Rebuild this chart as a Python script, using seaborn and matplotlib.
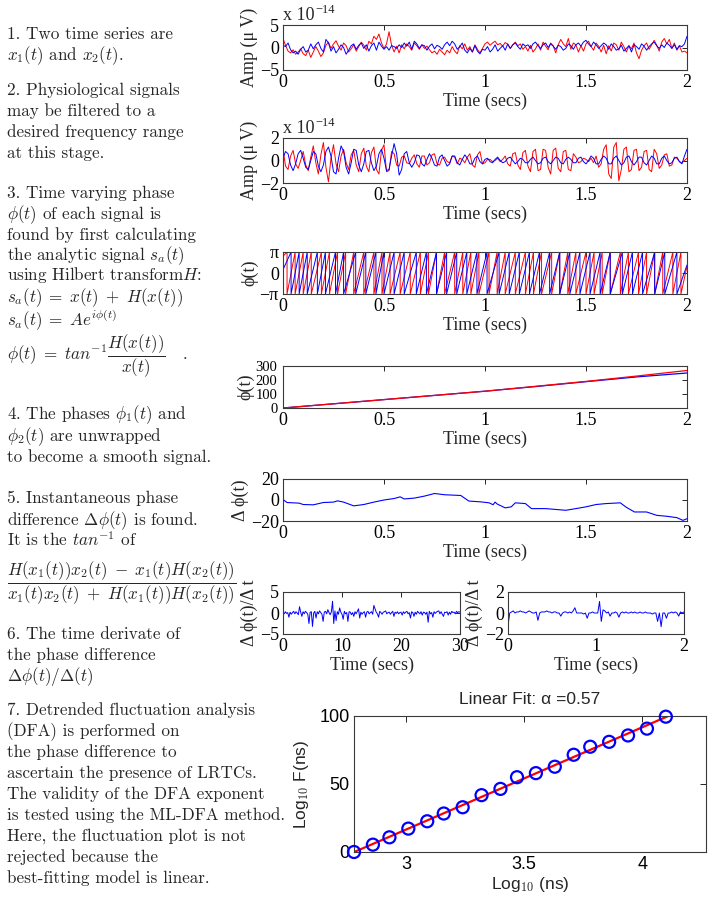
import numpy as np
import pandas as pd
import matplotlib
matplotlib.use("Agg")
import matplotlib.pyplot as plt
import seaborn as sns

# --- panel 1: raw signals, units of 1e-15 uV, sampled every 0.0125 s over 2 s
raw_red = [
    20, 5, -8, -12, -5, -15, -10, -3, -14, -18, -6, -22, -10, 2, -8, -20,
    -12, 5, 12, -2, 8, 15, 3, -6, 10, 4, -10, -3, 6, -8, 2, 12,
    5, -6, 14, 8, 25, 18, 30, 10, -2, 8, 35, 5, -10, 3, -12, 6,
    -3, 8, 2, -6, 10, 4, -4, 6, -2, 3, -5, -12, -8, -15, -4, -10,
    -16, -6, -12, 2, -8, -14, 4, -3, 8, -6, 2, -10, 6, -4, -12, -2,
    8, 12, 5, 10, 14, 6, 9, 3, 11, 7, -2, 6, 12, 4, 8, -4,
    2, -8, 5, -10, -3, 8, -6, 12, 3, -5, 10, 4, -12, 6, 18, 8,
    2, 20, -4, 10, 6, -10, 4, -8, 8, 14, 2, -6, 10, 3, -10, 5,
    -14, 4, -8, 10, 6, -6, 12, 2, -10, 4, -3, 10, -12, -25, -6, 4,
    10, -4, 6, 16, 5, -8, 12, 20, 8, 18, -2, 10, -6, 4, -10, -8,
    -12,
]
raw_blue = [
    5, 2, 10, -5, -12, -8, -15, -4, 2, -10, -6, 8, -3, 6, 12, -2,
    -10, 18, 10, -8, 2, -12, -4, 6, 0, -15, -6, 4, 8, -4, 5, 10,
    -2, 6, -8, 4, 10, -6, 12, 3, -4, 2, -6, 4, 2, -2, 6, 0,
    10, 3, 12, -4, 14, 8, -2, 6, 4, -6, 3, 8, -3, 5, 2, -4,
    6, 12, 4, 14, 8, -4, 2, 10, -6, -12, -2, -10, 4, -8, -14, -4,
    -6, 2, -10, -4, 6, -8, -2, 4, -6, 8, -2, 6, 10, 2, -4, 8,
    3, 6, -2, 8, 12, 4, -2, 6, 10, 0, 8, 3, -4, 5, 2, -6,
    -2, 8, 4, -4, 6, 10, 3, 12, 16, 8, 2, 12, 6, -2, 4, 10,
    6, -4, 8, 2, -6, -3, 5, -8, -2, 4, -10, 6, 2, -4, 8, 3,
    -6, 2, 8, 12, 4, -2, 6, 0, 10, 5, -2, 6, -4, 4, 2, 8,
    25,
]

# --- panel 2: filtered signals, units of 1e-15 uV
filt_red = [
    10, -5, -8, 4, 9, -3, -7, 0, 8, -4, -9, 3, 13, -2, -12, 5,
    16, -6, -19, 2, 14, -3, -10, 4, 10, -2, -8, 5, 9, -4, -10, 6,
    11, -5, -10, 7, 12, -8, -12, 9, 14, -10, -9, 8, 6, -4, -5, 3,
    4, -2, -3, 2, 5, -3, -6, 4, 4, -4, -2, 5, 6, -3, -4, 2,
    3, -1, -2, 4, 3, -3, 2, 1, -2, 3, 6, -4, -6, 5, 8, -3,
    -2, 1, 1, -1, 0, 2, -1, 1, 4, -3, -5, 6, 7, -4, -8, 7,
    9, -5, -10, 8, 10, -9, -8, 10, 9, -6, -12, 9, 11, -7, -10, 8,
    9, -8, -9, 6, 3, -2, -1, 2, 1, -1, 2, -2, 4, -6, -3, 10,
    14, -12, -16, 12, 16, -18, -8, 10, 12, -10, -8, 9, 10, -9, -6, 8,
    9, -8, -10, 10, 6, -7, -4, 5, 6, -5, -4, 3, 2, -1, -2, 0,
    2,
]
filt_blue = [
    2, 8, 6, -4, -9, -3, 6, 9, 2, -6, -8, 0, 8, 6, -5, -10,
    -4, 8, 12, 4, -10, -12, 2, 13, 8, -6, -12, -2, 10, 9, -4, -10,
    -3, 8, 9, -2, -9, -5, 6, 10, 2, -9, -8, 4, 15, 6, -13, -8,
    6, 8, -2, -6, -2, 5, 4, -3, -5, 1, 6, 2, -4, -5, 3, 5,
    0, -5, -3, 4, 4, -2, -4, 1, 5, 2, -3, -3, 2, 4, -1, -3,
    1, 2, -1, -2, 1, 3, 0, -2, -1, 2, 3, 0, -3, -1, 2, 1,
    -2, -2, 1, 3, 0, -3, -2, 2, 3, -1, -3, 0, 3, 2, -2, -3,
    1, 3, 1, -2, -2, 2, 3, -1, -3, 0, 4, 2, -3, -3, 1, 4,
    2, -3, -3, 2, 4, 0, -4, -2, 3, 4, -1, -4, -1, 3, 3, -2,
    -4, 0, 4, 2, -3, -3, 2, 4, 0, -3, -2, 2, 3, -1, -3, 4,
    10,
]

# --- panel 3: times (s) at which each wrapped phase jumps from pi to -pi
wrap_red = [0.02, 0.06, 0.10, 0.14, 0.19, 0.23, 0.27, 0.31, 0.35, 0.40, 0.45,
            0.49, 0.53, 0.58, 0.63, 0.68, 0.72, 0.76, 0.80, 0.85, 0.89, 0.93,
            0.97, 1.02, 1.06, 1.10, 1.15, 1.20, 1.24, 1.28, 1.33, 1.37, 1.41,
            1.45, 1.50, 1.54, 1.58, 1.62, 1.67, 1.71, 1.76, 1.80, 1.84, 1.88,
            1.93, 1.97]
wrap_blue = [0.04, 0.08, 0.12, 0.17, 0.21, 0.26, 0.30, 0.36, 0.41, 0.46, 0.50,
             0.55, 0.60, 0.66, 0.71, 0.76, 0.81, 0.86, 0.91, 0.96, 1.01, 1.07,
             1.12, 1.17, 1.22, 1.27, 1.32, 1.37, 1.42, 1.47, 1.52, 1.57, 1.62,
             1.68, 1.73, 1.78, 1.84, 1.89, 1.95]
wrap_start = {"red": 2.5, "blue": 0.5}
wrap_end = {"red": 1.0, "blue": 1.2}

# --- panel 4: unwrapped phase
unwrap_t = [0, 0.25, 0.5, 0.75, 1.0, 1.25, 1.5, 1.75, 2.0]
unwrap_red = [0, 30, 60, 90, 120, 155, 190, 228, 268]
unwrap_blue = [0, 30, 60, 90, 120, 153, 188, 222, 250]

# --- panel 5: phase difference
dphi_t = [0, 0.02, 0.08, 0.10, 0.15, 0.20, 0.25, 0.27, 0.30, 0.35, 0.40, 0.45,
          0.50, 0.55, 0.58, 0.60, 0.65, 0.70, 0.75, 0.80, 0.88, 0.92, 0.98,
          1.02, 1.04, 1.05, 1.06, 1.10, 1.13, 1.15, 1.20, 1.23, 1.30, 1.40,
          1.45, 1.50, 1.55, 1.60, 1.67, 1.70, 1.74, 1.80, 1.85, 1.90, 1.95,
          1.98, 2.0]
dphi_v = [0.5, -2.4, -3.0, -4.3, -4.6, -2.4, -2.0, -0.8, -2.0, -5.6, -4.3, -2.0,
          0.0, 1.4, 3.0, 1.0, 1.8, 3.7, 6.2, 5.0, 4.3, -1.0, -1.8,
          -2.7, -4.5, -2.0, -3.8, -7.5, -6.5, -2.7, -3.4, -8.2, -8.2, -9.8,
          -8.2, -6.5, -4.3, -3.4, -2.7, -7.0, -11.4, -11.4, -14.6, -15.5, -16.8,
          -19.4, -17.8]

# --- panel 6: derivative of the phase difference, units of 0.1
deriv_long = [
    2, -2, 3, -1, 1, -10, 2, -3, 1, 4,
    -2, 3, 0, -4, 15, 2, -8, 3, -2, 4,
    1, -3, -25, 2, 3, -32, 0, 4, -12, 3,
    -2, 5, 1, -3, -20, 2, 4, -2, 8, 1,
    -4, 3, 28, -25, 5, -18, 3, -3, 12, 2,
    -3, -15, 4, -2, 1, -20, 3, 2, -4, 1,
    -8, 3, -2, 4, 10, -12, 2, -3, 1, 3,
    -10, 2, 4, -2, 1, 3, -3, 18, 10, 2,
    -2, -10, 4, 1, -3, 2, 3, 5, -2, 1,
    2, -3, 1, 4, -8, 2, -1, 3, -2, 1,
    2, -5, 3, -1, 2, 4, -2, 1, -12, 3,
    1, -8, 2, -3, 4, 1, -2, 3, -5, 2,
    1, -3, 2, -22, 4, -2, 1, -10, 3, -1,
    2, 4, 5, -2, 3, -3, -8, 2, 1, 3,
    -5, 2, -3, 4, 1, 2, -2, 4, 1, 3,
    2,
]
deriv_short = [
    -12, 0, 1, 2, 0, 1, 1, 2, 1, 1,
    0, 1, 2, 1, 0, 0, 1, -7, 0, 1,
    1, 1, 2, 1, 1, 0, 1, 1, 0, 0,
    -3, 0, 1, 1, 0, 1, 0, 2, 5, 0,
    0, 0, 0, -1, 0, -5, 0, 0, 1, 0,
    0, 0, 11, -8, 3, 2, 0, 1, -3, 0,
    0, 1, 0, -4, 0, 1, 0, 1, 0, 0,
    1, 0, 1, 0, 0, 1, 0, 0, 1, 0,
    0, 0, -1, 0, 0, -8, 0, -13, 0, 0,
    -5, 0, 0, 1, 0, 1, 0, -3, 1, 0,
    1,
]

# --- panel 7: DFA fluctuation plot
dfa_x = [2.78, 2.86, 2.93, 3.01, 3.09, 3.16, 3.24, 3.32, 3.40, 3.47, 3.55,
         3.63, 3.71, 3.78, 3.86, 3.94, 4.02, 4.10]
dfa_y = [0, 5.4, 10.8, 17.2, 22.6, 28.3, 32.9, 41.8, 46.4, 55.0, 58.0, 62.7,
         71.5, 77.4, 81.0, 85.7, 90.7, 99.5]
fit_range = [2.78, 4.135]

left_lines = [
    (39, "1. Two time series are"),
    (60, r"$x_1(t)$ and $x_2(t)$."),
    (95, "2. Physiological signals"),
    (116, "may be filtered to a"),
    (137, "desired frequency range"),
    (158, "at this stage."),
    (198, "3. Time varying phase"),
    (219, r"$\phi(t)$ of each signal is"),
    (240, "found by first calculating"),
    (260, r"the analytic signal $s_a(t)$"),
    (280, r"using Hilbert transform$H$:"),
    (302, r"$s_a(t)\;=\;x(t)\;+\;H(x(t))$"),
    (326, r"$s_a(t)\;=\;Ae^{i\phi(t)}$"),
    (360, r"$\phi(t)\;=\;tan^{-1}\dfrac{H(x(t))}{x(t)}$   ."),
    (419, r"4. The phases $\phi_1(t)$ and"),
    (441, r"$\phi_2(t)$ are unwrapped"),
    (462, "to become a smooth signal."),
    (503, "5. Instantaneous phase"),
    (525, r"difference $\Delta\phi(t)$ is found."),
    (546, r"It is the $tan^{-1}$ of"),
    (587, r"$\dfrac{H(x_1(t))x_2(t)\;-\;x_1(t)H(x_2(t))}{x_1(t)x_2(t)\;+\;H(x_1(t))H(x_2(t))}$"),
    (639, "6. The time derivate of"),
    (660, "the phase difference"),
    (681, r"$\Delta\phi(t)/\Delta(t)$"),
    (715, "7. Detrended fluctuation analysis"),
    (736, "(DFA) is performed on"),
    (757, "the phase difference to"),
    (778, "ascertain the presence of LRTCs."),
    (799, "The validity of the DFA exponent"),
    (820, "is tested using the ML-DFA method."),
    (841, "Here, the fluctuation plot is not"),
    (862, "rejected because the"),
    (883, "best-fitting model is linear."),
]

SERIF = ["Liberation Serif", "DejaVu Serif"]
SANS = ["Liberation Sans Narrow", "Liberation Sans", "DejaVu Sans"]
FS = 13

sns.set_style("white")
plt.rcParams["font.family"] = SERIF
plt.rcParams["mathtext.fontset"] = "cm"

W, H = 708, 907
fig = plt.figure(figsize=(W / 100, H / 100), dpi=100)


def add_ax(l, t, r, b):
    return fig.add_axes([l / W, 1 - b / H, (r - l) / W, (b - t) / H])


def style(ax, xticks, xlabels, yticks, ylabels, xlim, ylim, ylabel, fs=FS, family=SERIF):
    ax.set_xlim(xlim)
    ax.set_ylim(ylim)
    ax.set_xticks(xticks)
    ax.set_xticklabels(xlabels, family=family)
    ax.set_yticks(yticks)
    ax.set_yticklabels(ylabels, family=family)
    ax.tick_params(direction="in", top=True, right=True, length=3.5, width=0.6,
                   labelsize=fs, pad=3, colors="black")
    for s in ax.spines.values():
        s.set_linewidth(0.8)
        s.set_color("#3a3a3a")
    ax.set_ylabel(ylabel, fontsize=fs, family=family, labelpad=1)


def line(ax, x, y, color, lw=0.7):
    sns.lineplot(x=x, y=y, ax=ax, color=color, lw=lw, estimator=None, sort=False)


def time_label(ax):
    ax.set_xlabel("Time (secs)", fontsize=FS, labelpad=1)


time_ticks = [0, 0.5, 1, 1.5, 2]
time_labels = ["0", "0.5", "1", "1.5", "2"]
t_fine = np.linspace(0, 2, len(raw_red))

# panel 1
ax1 = add_ax(283, 25, 687, 70)
line(ax1, t_fine, np.array(raw_red) * 1e-15, "red")
line(ax1, t_fine, np.array(raw_blue) * 1e-15, "blue")
style(ax1, time_ticks, time_labels, [-5e-14, 0, 5e-14], ["\u22125", "0", "5"],
      (0, 2), (-5e-14, 5e-14), "Amp (\u03bc V)")
time_label(ax1)

# panel 2
ax2 = add_ax(283, 138, 687, 183)
line(ax2, t_fine, np.array(filt_red) * 1e-15, "red")
line(ax2, t_fine, np.array(filt_blue) * 1e-15, "blue")
style(ax2, time_ticks, time_labels, [-2e-14, 0, 2e-14], ["\u22122", "0", "2"],
      (0, 2), (-2e-14, 2e-14), "Amp (\u03bc V)")
time_label(ax2)

for top in (25, 138):
    fig.text(283 / W, 1 - (top - 5) / H, "x 10", fontsize=FS, va="baseline")
    fig.text(315 / W, 1 - (top - 12) / H, "\u221214", fontsize=9, va="baseline")

# panel 3: wrapped phase as sawtooth built from wrap times
ax3 = add_ax(283, 252, 687, 294)
for name, wraps, col in (("red", wrap_red, "red"), ("blue", wrap_blue, "blue")):
    xs = [0.0]
    ys = [wrap_start[name]]
    for w in wraps:
        xs += [w, w]
        ys += [np.pi, -np.pi]
    xs.append(2.0)
    ys.append(wrap_end[name])
    line(ax3, xs, ys, col)
style(ax3, time_ticks, time_labels, [-np.pi, 0, np.pi], ["\u2212\u03c0", "0", "\u03c0"],
      (0, 2), (-np.pi, np.pi), "\u03d5(t)")
time_label(ax3)

# panel 4
ax4 = add_ax(283, 366, 687, 408)
line(ax4, unwrap_t, unwrap_blue, "blue", lw=0.9)
line(ax4, unwrap_t, unwrap_red, "red", lw=0.9)
style(ax4, time_ticks, time_labels, [0, 100, 200, 300], ["0", "100", "200", "300"],
      (0, 2), (0, 300), "\u03d5(t)")
ax4.tick_params(axis="y", labelsize=10.5, pad=4)
time_label(ax4)

# panel 5
ax5 = add_ax(283, 479, 687, 521)
line(ax5, dphi_t, dphi_v, "blue", lw=0.8)
style(ax5, time_ticks, time_labels, [-20, 0, 20], ["\u221220", "0", "20"],
      (0, 2), (-20, 20), "\u0394 \u03d5(t)")
time_label(ax5)

# panel 6a / 6b
ax6 = add_ax(283, 592, 460, 634)
t_long = np.linspace(0, 30, len(deriv_long))
line(ax6, t_long, np.array(deriv_long) * 0.1, "blue")
style(ax6, [0, 10, 20, 30], ["0", "10", "20", "30"], [-5, 0, 5], ["\u22125", "0", "5"],
      (0, 30), (-5, 5), "\u0394 \u03d5(t)/\u0394 t")
time_label(ax6)

ax7 = add_ax(508, 592, 684, 634)
t_short = np.linspace(0, 2, len(deriv_short))
line(ax7, t_short, np.array(deriv_short) * 0.1, "blue")
style(ax7, [0, 1, 2], ["0", "1", "2"], [-2, 0, 2], ["\u22122", "0", "2"],
      (0, 2), (-2, 2), "\u0394 \u03d5(t)/\u0394 t")
time_label(ax7)

# panel 7: DFA
ax8 = add_ax(354, 716, 706, 852)
slope, icpt = np.polyfit(dfa_x, dfa_y, 1)
fx = np.array(fit_range)
sns.lineplot(x=fx, y=slope * fx + icpt, ax=ax8, color="red", lw=1.6, zorder=2)
sns.scatterplot(x=dfa_x, y=dfa_y, ax=ax8, marker="o", s=75, facecolor="none",
                edgecolor="blue", linewidth=1.6, zorder=3, clip_on=False)
style(ax8, [3, 3.5, 4], ["3", "3.5", "4"], [0, 50, 100], ["0", "50", "100"],
      (2.78, 4.27), (0, 100), r"Log$_{\mathsf{10}}$ F(ns)", fs=13, family=SANS)
ax8.set_ylabel(r"Log$_{\mathsf{10}}$ F(ns)", fontsize=12.5, family=SANS, labelpad=6)
ax8.set_xlabel(r"Log$_{\mathsf{10}}$ (ns)", fontsize=12.5, family=SANS, labelpad=1)
ax8.set_title("Linear Fit: \u03b1 =0.57", fontsize=12.5, family=SANS, pad=9)
ax8.tick_params(length=4)

# left column text
for y, txt in left_lines:
    fig.text(7 / W, 1 - y / H, txt, fontsize=12.3, family="cmr10", va="baseline")

fig.savefig("out.png", dpi=100)
